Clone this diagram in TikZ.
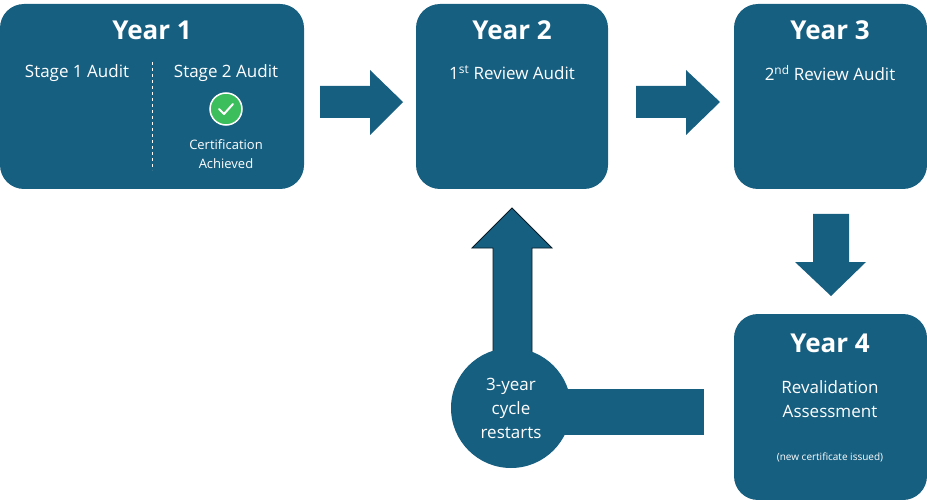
\documentclass[tikz,border=0pt]{standalone}
\usepackage{fontspec}
\setmainfont{Open Sans}
\usepackage{tikz}
\definecolor{cyclebl}{HTML}{175F80}
\definecolor{okgreen}{HTML}{3DBE5C}

\begin{document}
\begin{tikzpicture}[x=1pt,y=-1pt,
	yearbox/.style={fill=cyclebl, rounded corners=24pt},
	title/.style={text=white, font=\fontsize{26}{28}\selectfont\bfseries},
	body/.style={text=white, font=\fontsize{17}{20}\selectfont},
	small/.style={text=white, font=\fontsize{13}{15}\selectfont}]
	\useasboundingbox (0,0) rectangle (927,500);

	% boxes
	\fill[yearbox] (0,4) rectangle (304,189);
	\fill[yearbox] (416,4) rectangle (608,189);
	\fill[yearbox] (734,4) rectangle (927,189);
	\fill[yearbox] (734,314) rectangle (927,500);

	% block arrows
	\fill[cyclebl] (320,86) -- (370,86) -- (370,70) -- (403,102) -- (370,135) -- (370,118) -- (320,118) -- cycle;
	\fill[cyclebl] (636,86) -- (686,86) -- (686,70) -- (720,102) -- (686,135) -- (686,118) -- (636,118) -- cycle;
	\fill[cyclebl] (813,214) -- (849,214) -- (849,262) -- (866,262) -- (831,296) -- (795,262) -- (813,262) -- cycle;
	\fill[cyclebl] (540,389) rectangle (704,435);
	\filldraw[fill=cyclebl,draw=black!70!cyclebl,line width=0.8pt] (493,360) -- (493,248) -- (472,248) -- (512,208) -- (552,248) -- (532,248) -- (532,360) -- cycle;
	\node[circle, fill=cyclebl, minimum size=120pt, inner sep=0pt] (restart) at (511,408) {};

	% year 1
	\node[title] (y1) at (152,30) {Year 1};
	\node[body] (s1) at (77,73) {Stage 1 Audit};
	\node[body] (s2) at (226,73) {Stage 2 Audit};
	\draw[white, dashed, line width=1pt] (152,62) -- (152,170);
	\node[circle, fill=okgreen, draw=white, line width=1.5pt, minimum size=32pt, inner sep=0pt] (tick) at (226,109) {};
	\draw[white, line width=2pt, line cap=round, line join=round] (219,109) -- (224,114) -- (233,104);
	\node[small] (cert) at (226,145) {Certification};
	\node[small] (ach) at (226,164) {Achieved};

	% year 2, 3
	\node[title] (y2) at (512,30) {Year 2};
	\node[body] (r1) at (512,73) {1\textsuperscript{st} Review Audit};
	\node[title] (y3) at (830,30) {Year 3};
	\node[body] (r2) at (830,73) {2\textsuperscript{nd} Review Audit};

	% year 4
	\node[title] (y4) at (830,343) {Year 4};
	\node[body] (rv) at (830,387) {Revalidation};
	\node[body] (as) at (830,411) {Assessment};
	\node[font=\fontsize{10}{12}\selectfont, text=white] (iss) at (830,457) {(new certificate issued)};

	% restart
	\node[body, align=center, text=white, font=\fontsize{17}{24}\selectfont] at (restart) {3-year\\cycle\\restarts};
\end{tikzpicture}
\end{document}
